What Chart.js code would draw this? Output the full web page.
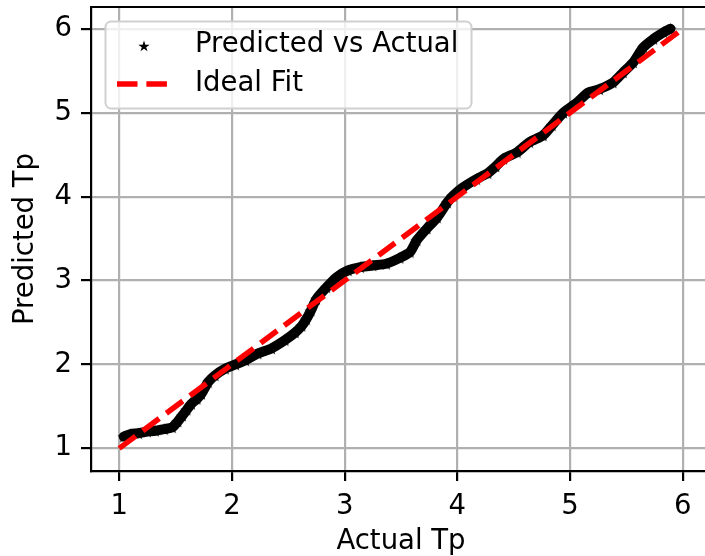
<!DOCTYPE html>
<html><head><meta charset="utf-8">
<script src="https://cdn.jsdelivr.net/npm/chart.js@4"></script>
<style>
html,body{margin:0;padding:0;overflow:hidden;background:#fff;width:705px;height:556px}
#wrap{position:absolute;left:0;top:0;width:730px;height:556px}
</style></head>
<body><div id="wrap"><canvas id="c" width="730" height="556"></canvas></div>
<script>
// ---- data ----
const actualTp = [1.04,1.10,1.17,1.25,1.32,1.40,1.47,1.52,1.56,1.60,1.64,1.69,1.73,1.79,1.85,1.94,2.03,2.12,2.23,2.35,2.47,2.56,2.62,2.66,2.70,2.75,2.84,2.93,3.03,3.14,3.25,3.37,3.49,3.58,3.64,3.73,3.82,3.91,3.96,4.05,4.17,4.27,4.34,4.41,4.53,4.64,4.76,4.84,4.94,5.06,5.16,5.26,5.38,5.47,5.56,5.65,5.74,5.83,5.89];
const predictedTp = [1.14,1.17,1.18,1.20,1.21,1.23,1.25,1.32,1.39,1.46,1.53,1.59,1.65,1.79,1.87,1.95,2.00,2.05,2.13,2.19,2.29,2.38,2.46,2.54,2.64,2.78,2.92,3.04,3.12,3.16,3.18,3.20,3.27,3.34,3.48,3.62,3.75,3.93,4.01,4.11,4.21,4.28,4.36,4.45,4.53,4.65,4.73,4.85,5.00,5.12,5.24,5.28,5.36,5.48,5.60,5.78,5.88,5.96,6.00];
const idealFitX = [1.0, 5.97];
const idealFitY = [1.0, 5.97];
const xTickValues = [1,2,3,4,5,6];
const yTickValues = [1,2,3,4,5,6];
const seriesLabels = ['Predicted vs Actual', 'Ideal Fit'];
const xAxisTitle = 'Actual Tp';
const yAxisTitle = 'Predicted Tp';

const FS = 27.5;
const FONT = "'DejaVu Sans', sans-serif";
Chart.defaults.font.family = FONT;
Chart.defaults.font.size = FS;
Chart.defaults.color = '#000';

function starPath(ctx, cx, cy, R) {
  const r = R * 0.382;
  ctx.beginPath();
  for (let i = 0; i < 10; i++) {
    const rad = i % 2 === 0 ? R : r;
    const a = -Math.PI / 2 + i * Math.PI / 5;
    const px = cx + rad * Math.cos(a), py = cy + rad * Math.sin(a);
    if (i === 0) ctx.moveTo(px, py); else ctx.lineTo(px, py);
  }
  ctx.closePath();
}
function makeStar(size) {
  const c = document.createElement('canvas');
  c.width = size; c.height = size;
  const g = c.getContext('2d');
  g.fillStyle = '#000';
  starPath(g, size / 2, size / 2 + size * 0.05, size / 2);
  g.fill();
  return c;
}
const starImg = makeStar(13);

const framePlugin = {
  id: 'frame',
  afterDatasetsDraw(chart) {
    const {ctx, chartArea: a} = chart;
    ctx.save();
    ctx.strokeStyle = '#000';
    ctx.lineWidth = 2.2;
    ctx.beginPath();
    ctx.moveTo(a.left - 1, a.top);
    ctx.lineTo(a.right, a.top);
    ctx.lineTo(a.right, a.bottom);
    ctx.stroke();
    ctx.restore();
  }
};

const legendPlugin = {
  id: 'innerLegend',
  afterDraw(chart) {
    const {ctx} = chart;
    const x = 105.5, y = 21.5, w = 366, h = 87, rr = 5.5;
    ctx.save();
    ctx.beginPath();
    ctx.roundRect(x, y, w, h, rr);
    ctx.fillStyle = 'rgba(255,255,255,0.8)';
    ctx.fill();
    ctx.strokeStyle = '#d0d0d0';
    ctx.lineWidth = 2;
    ctx.stroke();
    // entry 1: star marker
    ctx.fillStyle = '#000';
    starPath(ctx, 144, 46.5, 6);
    ctx.fill();
    // entry 2: dashed red line
    ctx.strokeStyle = '#ff0000';
    ctx.lineWidth = 5.5;
    ctx.setLineDash([20.5, 8.9]);
    ctx.beginPath();
    ctx.moveTo(117, 84);
    ctx.lineTo(172, 84);
    ctx.stroke();
    ctx.setLineDash([]);
    ctx.fillStyle = '#000';
    ctx.font = FS + 'px ' + FONT;
    ctx.textBaseline = 'middle';
    ctx.textAlign = 'left';
    ctx.fillText(seriesLabels[0], 195, 45);
    ctx.fillText(seriesLabels[1], 195, 84);
    ctx.restore();
  }
};

const axisCommon = {
  type: 'linear',
  grid: {color: '#b0b0b0', lineWidth: 2.2, tickLength: 10, tickColor: '#000', tickWidth: 2.2},
  border: {color: '#000', width: 2.2}
};

new Chart(document.getElementById('c'), {
  type: 'scatter',
  data: {
    datasets: [
      {
        label: seriesLabels[1],
        data: idealFitX.map((v, i) => ({x: v, y: idealFitY[i]})),
        showLine: true,
        borderColor: '#ff0000',
        borderWidth: 5.5,
        borderDash: [20.5, 8.9],
        pointRadius: 0,
        order: 0
      },
      {
        label: seriesLabels[0],
        data: actualTp.map((v, i) => ({x: v, y: predictedTp[i]})),
        showLine: true,
        borderColor: '#000',
        backgroundColor: '#000',
        borderWidth: 10,
        borderJoinStyle: 'round',
        borderCapStyle: 'round',
        tension: 0.25,
        pointStyle: starImg,
        pointRadius: 6,
        order: 1
      }
    ]
  },
  options: {
    responsive: false,
    animation: false,
    devicePixelRatio: 1,
    layout: {autoPadding: false, padding: {top: 7, right: 19, left: 0, bottom: 0}},
    plugins: {legend: {display: false}, tooltip: {enabled: false}},
    scales: {
      x: Object.assign({}, axisCommon, {
        min: 0.75, max: 6.25,
        afterBuildTicks: s => { s.ticks = xTickValues.map(v => ({value: v})); },
        afterFit: s => { s.height = 85; s.paddingLeft = 0; s.paddingRight = 0; },
        ticks: {padding: 9, maxRotation: 0, autoSkip: false, callback: v => String(v)},
        title: {display: true, text: xAxisTitle, font: {lineHeight: 1.05}, padding: {top: 0, bottom: 0}}
      }),
      y: Object.assign({}, axisCommon, {
        min: 0.73, max: 6.26,
        afterBuildTicks: s => { s.ticks = yTickValues.map(v => ({value: v})); },
        afterFit: s => { s.width = 91; s.paddingTop = 0; s.paddingBottom = 0; },
        ticks: {padding: 9, autoSkip: false, callback: v => String(v)},
        title: {display: true, text: yAxisTitle, padding: {top: 9, bottom: 0}}
      })
    }
  },
  plugins: [framePlugin, legendPlugin]
});
</script>
</body></html>
